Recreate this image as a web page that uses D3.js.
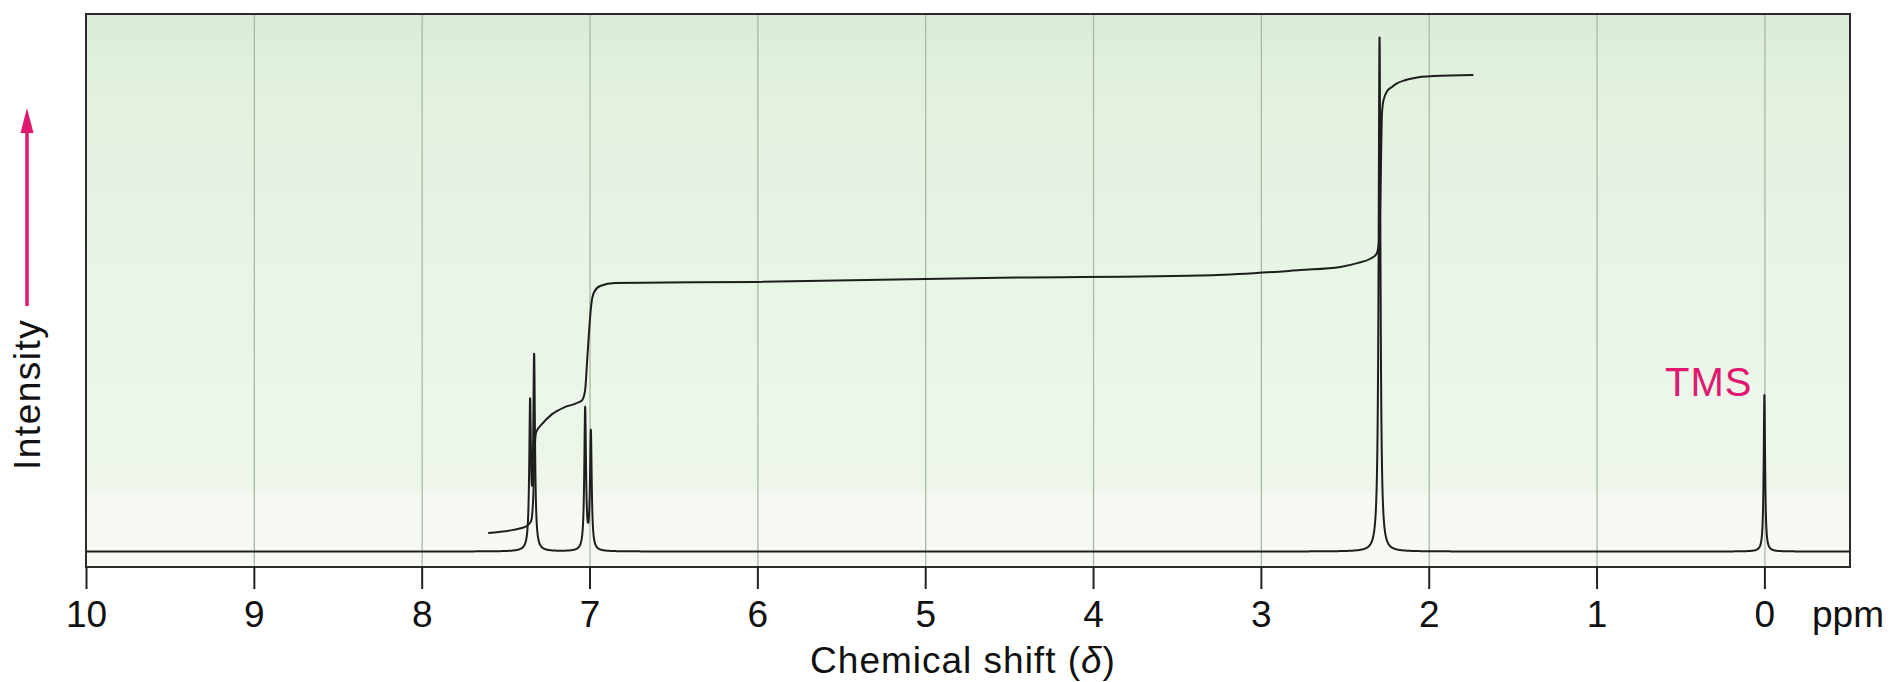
<!DOCTYPE html>
<html>
<head>
<meta charset="utf-8">
<script src="https://cdn.jsdelivr.net/npm/d3@7"></script>
<style>
  html, body { margin: 0; padding: 0; background: #ffffff; }
  svg { display: block; }
  text { font-family: "Liberation Sans", Arial, Helvetica, sans-serif; }
</style>
</head>
<body>
<svg id="chart" width="1900" height="682"></svg>
<script>
// Chemical-shift axis ticks (ppm)
const shiftTicks = [10, 9, 8, 7, 6, 5, 4, 3, 2, 1, 0];

// Resonance lines: position (ppm), amplitude (relative, CH3 = 100), half width (ppm)
const peakShift = [7.354, 7.330, 7.026, 6.992, 2.293, 0.000];
const peakAmplitude = [27.6, 36.8, 27.4, 22.8, 100.0, 30.4];
const peakHalfWidth = [0.006, 0.006, 0.006, 0.006, 0.0065, 0.005];

// Integral trace: position (ppm) and level (same relative units)
const integralShift = [7.604, 7.455, 7.372, 7.348, 7.336, 7.327, 7.318, 7.282, 7.223, 7.151,
  7.080, 7.044, 7.026, 7.014, 7.002, 6.990, 6.973, 6.937, 6.847, 6.001, 4.553, 3.290,
  2.765, 2.527, 2.420, 2.348, 2.312, 2.295, 2.286, 2.280, 2.274, 2.262, 2.249, 2.219,
  2.189, 2.142, 2.092, 1.973, 1.734];
const integralLevel = [3.6, 4.2, 5.0, 5.9, 10.0, 19.7, 23.2, 24.8, 26.7, 28.0,
  28.8, 29.4, 31.4, 37.2, 43.1, 47.9, 50.4, 51.6, 52.2, 52.4, 53.2, 53.7,
  54.7, 55.3, 56.1, 56.9, 57.8, 60.5, 72.2, 83.9, 86.8, 88.5, 89.4, 90.3,
  91.0, 91.6, 92.0, 92.4, 92.6];

const svg = d3.select("#chart");
const plot = { left: 86, right: 1850, top: 14, bottom: 567 };

const x = d3.scaleLinear().domain([10, -0.51]).range([plot.left, plot.right]);
const y = d3.scaleLinear().domain([0, 100]).range([551.5, 37]);

// Panel background
const defs = svg.append("defs");
const grad = defs.append("linearGradient")
  .attr("id", "panelFill")
  .attr("gradientUnits", "userSpaceOnUse")
  .attr("x1", 0).attr("y1", plot.top).attr("x2", 0).attr("y2", plot.bottom);
[[0, "#dbebd8"], [0.1, "#e2f0df"], [0.5, "#e9f5e7"], [0.86, "#eef6ec"],
 [0.87, "#f5f8f3"], [1, "#f7f9f5"]].forEach(([o, c]) =>
  grad.append("stop").attr("offset", o).attr("stop-color", c));

svg.append("rect")
  .attr("x", plot.left).attr("y", plot.top)
  .attr("width", plot.right - plot.left).attr("height", plot.bottom - plot.top)
  .attr("fill", "url(#panelFill)");

// Vertical grid lines
const grid = svg.append("g")
  .attr("transform", `translate(0,${plot.bottom})`)
  .call(d3.axisBottom(x).tickValues(shiftTicks.filter(d => d !== 10))
    .tickSize(-(plot.bottom - plot.top)).tickFormat(""));
grid.select(".domain").remove();
grid.selectAll("line").attr("stroke", "#a9b9a4").attr("stroke-width", 1.3);

// Spectrum: sum of Lorentzian lines
const step = 0.0004;
const spectrum = [];
for (let s = 10; s >= -0.51; s -= step) {
  let v = 0;
  for (let i = 0; i < peakShift.length; i++) {
    const d = (s - peakShift[i]) / peakHalfWidth[i];
    v += peakAmplitude[i] / (1 + d * d);
  }
  spectrum.push([s, v]);
}
const line = d3.line().x(d => x(d[0])).y(d => y(d[1]));
svg.append("path")
  .datum(spectrum)
  .attr("d", line)
  .attr("fill", "none")
  .attr("stroke", "#1e1e1e")
  .attr("stroke-width", 2)
  .attr("stroke-linejoin", "round");

// Integral trace
const integral = integralShift.map((s, i) => [s, integralLevel[i]]);
svg.append("path")
  .datum(integral)
  .attr("d", d3.line().x(d => x(d[0])).y(d => y(d[1])).curve(d3.curveMonotoneX))
  .attr("fill", "none")
  .attr("stroke", "#1e1e1e")
  .attr("stroke-width", 2);

// Frame
svg.append("rect")
  .attr("x", plot.left).attr("y", plot.top)
  .attr("width", plot.right - plot.left).attr("height", plot.bottom - plot.top)
  .attr("fill", "none").attr("stroke", "#2b2b2b").attr("stroke-width", 2);

// Bottom axis: ticks below the frame with labels
const axis = svg.append("g")
  .attr("transform", `translate(0,${plot.bottom})`)
  .call(d3.axisBottom(x).tickValues(shiftTicks).tickSize(22).tickPadding(0).tickFormat(d3.format("d")));
axis.select(".domain").remove();
axis.selectAll("line").attr("stroke", "#222").attr("stroke-width", 2);
axis.selectAll("text")
  .attr("y", 60).attr("dy", null)
  .attr("fill", "#111")
  .style("font-size", "37px")
  .style("font-family", "'Liberation Sans', Arial, sans-serif");

svg.append("text")
  .attr("x", 1812).attr("y", 627)
  .attr("fill", "#111")
  .style("font-size", "37px")
  .text("ppm");

// Axis title
const title = svg.append("text")
  .attr("x", 963).attr("y", 673)
  .attr("text-anchor", "middle")
  .attr("fill", "#111")
  .style("font-size", "37px")
  .style("letter-spacing", "1px");
title.append("tspan").text("Chemical shift (");
title.append("tspan").style("font-style", "italic").text("δ");
title.append("tspan").text(")");

// Intensity label with arrow
const pink = "#e0186f";
svg.append("text")
  .attr("transform", "translate(40,470) rotate(-90)")
  .attr("fill", "#111")
  .style("font-size", "37px")
  .style("letter-spacing", "1.5px")
  .text("Intensity");
svg.append("line")
  .attr("x1", 27).attr("x2", 27).attr("y1", 306).attr("y2", 128)
  .attr("stroke", pink).attr("stroke-width", 3.5);
svg.append("path")
  .attr("d", "M27,108 L20.5,133 L33.5,133 Z")
  .attr("fill", pink);

// Reference peak label
svg.append("text")
  .attr("x", x(0) - 12).attr("y", 396)
  .attr("text-anchor", "end")
  .attr("fill", pink)
  .style("font-size", "40px")
  .style("letter-spacing", "1px")
  .text("TMS");
</script>
</body>
</html>
